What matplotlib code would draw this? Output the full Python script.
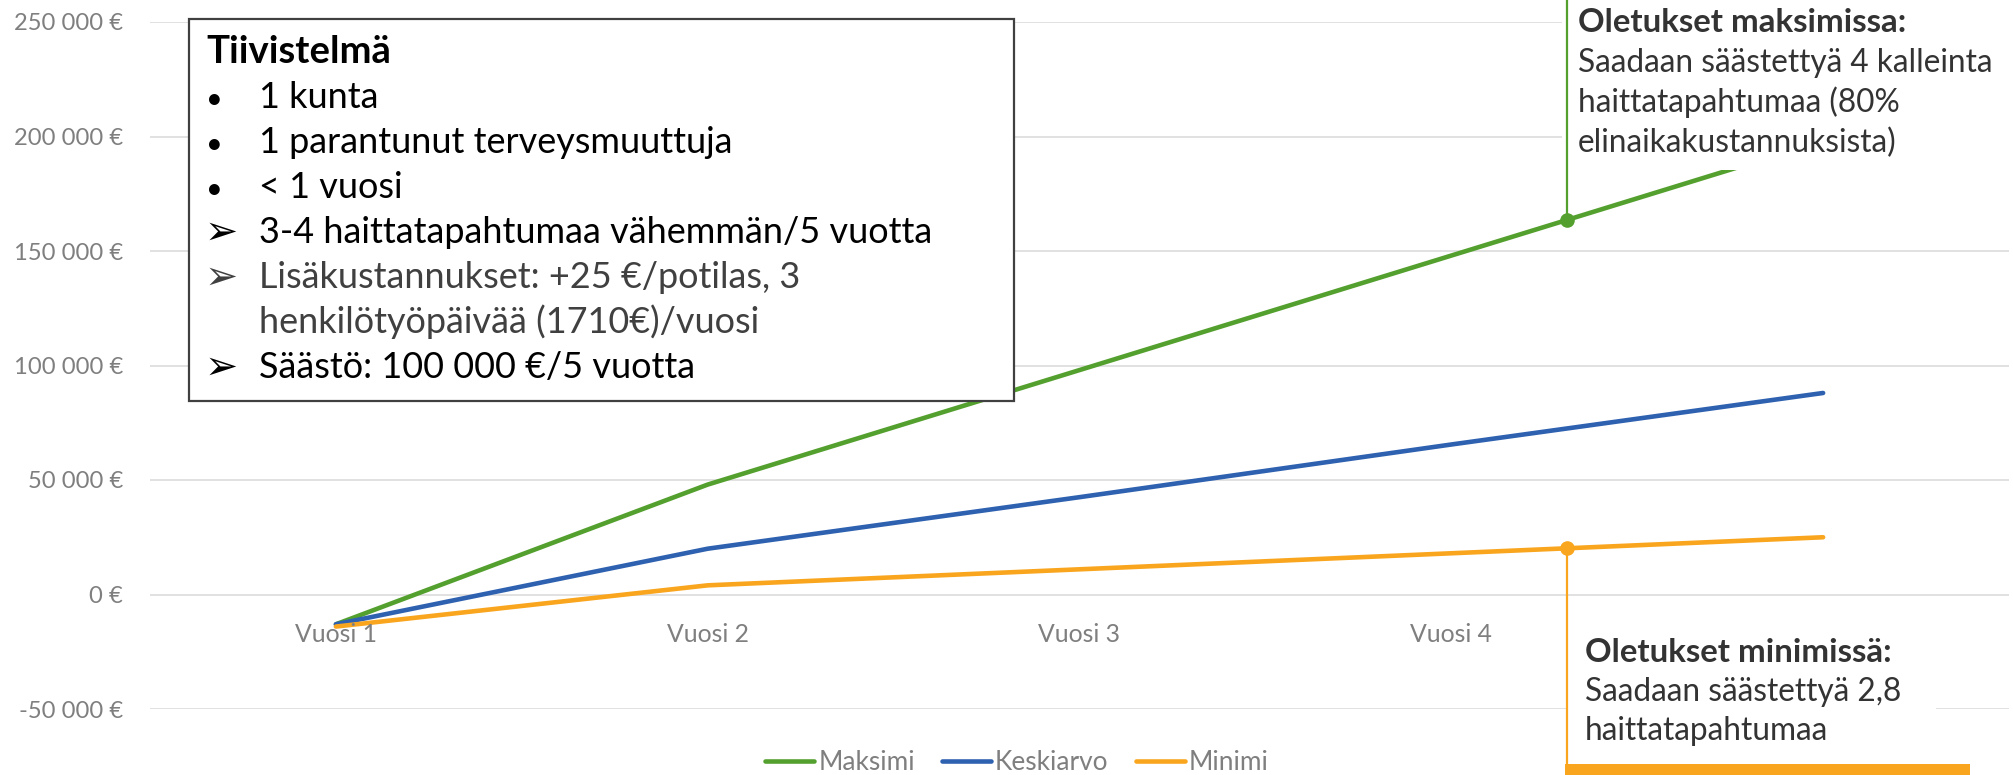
import numpy as np
import matplotlib
matplotlib.use("Agg")
import matplotlib.pyplot as plt
from matplotlib.patches import Rectangle
from matplotlib.lines import Line2D
from matplotlib.textpath import TextPath
from matplotlib.font_manager import FontProperties

# --- data -------------------------------------------------------------
vuodet = ["Vuosi 1", "Vuosi 2", "Vuosi 3", "Vuosi 4", "Vuosi 5"]
maksimi = [-13000, 48000, 98000, 148000, 198000]
keskiarvo = [-13000, 20000, 42500, 65500, 88000]
minimi = [-14000, 4000, 11000, 18000, 25000]
y_ticks = [-50000, 0, 50000, 100000, 150000, 200000, 250000]

sarjat = ["Maksimi", "Keskiarvo", "Minimi"]
varit = ["#54A02E", "#2E61B0", "#F9A51E"]

tiivistelma = [
    ("•", "1 kunta"),
    ("•", "1 parantunut terveysmuuttuja"),
    ("•", "< 1 vuosi"),
    ("➢", "3-4 haittatapahtumaa vähemmän/5 vuotta"),
    ("➢", "Lisäkustannukset: +25 €/potilas, 3"),
    ("", "henkilötyöpäivää (1710€)/vuosi"),
    ("➢", "Säästö: 100 000 €/5 vuotta"),
]
harmaat_rivit = [4, 5]

maks_otsikko = "Oletukset maksimissa:"
maks_teksti = ["Saadaan säästettyä 4 kalleinta", "haittatapahtumaa (80%",
               "elinaikakustannuksista)"]
min_otsikko = "Oletukset minimissä:"
min_teksti = ["Saadaan säästettyä 2,8", "haittatapahtumaa"]
kohta = 4.31   # where the callouts touch the lines

# --- setup ------------------------------------------------------------
W, H = 2013, 775
FONT = ["Lato", "DejaVu Sans"]
plt.rcParams["font.family"] = FONT


def fx(x):
    return x / W


def fy(y):
    return 1 - y / H


def koko(s, leveys_px, weight="normal"):
    # font size (pt) that makes the ink of s about leveys_px wide
    fp = FontProperties(family="Lato", weight=weight, size=10)
    w = TextPath((0, 0), s, prop=fp).get_extents().width
    return 10 * leveys_px * 72 / 100 / w


fs_tick = koko("250 000 €", 107)
fs_cat = koko("Vuosi 1", 80)
fs_leg = koko("Keskiarvo", 110)
fs_title = koko("Tiivistelmä", 182, "bold")
fs_body = koko("3-4 haittatapahtumaa vähemmän/5 vuotta", 670)
fs_note_b = koko(maks_otsikko, 326, "bold")
fs_note = koko(maks_teksti[0], 413)

fig = plt.figure(figsize=(W / 100, H / 100), dpi=100)
ax = fig.add_axes([fx(150), fy(709), (2009 - 150) / W, (709 - 22) / H])

x = np.arange(1, len(vuodet) + 1)
for nimi, arvot, vari in zip(sarjat, [maksimi, keskiarvo, minimi], varit):
    ax.plot(x, arvot, color=vari, lw=3.3, label=nimi,
            solid_capstyle="round", solid_joinstyle="round", zorder=3)

ax.set_xlim(0.5, 5.5)
ax.set_ylim(-50000, 250000)
ax.set_yticks(y_ticks)
ax.set_yticklabels([f"{v:,} €".replace(",", " ") for v in y_ticks])
ax.set_xticks([])
ax.yaxis.grid(True, color="#D9D9D9", lw=1.1)
ax.set_axisbelow(True)
for s in ax.spines.values():
    s.set_visible(False)
ax.tick_params(axis="y", length=0, pad=19.5, labelsize=fs_tick,
               labelcolor="#7F7F7F")

# the last category label sits under the minimum callout box, as in the source
for xi, nimi in zip(x[:-1], vuodet[:-1]):
    ax.annotate(nimi, (xi, 0), xytext=(0, -47 * 0.72),
                textcoords="offset points", ha="center", va="baseline",
                fontsize=fs_cat, color="#7F7F7F")

fs_px = fs_leg * 100 / 72
leg = ax.legend(loc="center", ncol=3, frameon=False, fontsize=fs_leg,
                labelcolor="#7F7F7F", handlelength=49 / fs_px,
                handletextpad=4 / fs_px, columnspacing=27 / fs_px,
                bbox_to_anchor=(fx(1017), fy(763)),
                bbox_transform=fig.transFigure)
for h in leg.get_lines():
    h.set_solid_capstyle("round")


def data_to_fig(xd, yd):
    return fig.transFigure.inverted().transform(ax.transData.transform((xd, yd)))


# --- summary box --------------------------------------------------------
fig.add_artist(Rectangle((fx(189), fy(401)), (1014 - 189) / W, (401 - 19) / H,
                         facecolor="white", edgecolor="#404040", lw=1.6,
                         transform=fig.transFigure, zorder=5))
fig.text(fx(206), fy(63), "Tiivistelmä", fontsize=fs_title, fontweight="bold",
         color="black", va="baseline", zorder=6)
for i, (merkki, teksti) in enumerate(tiivistelma):
    yb = 108 + 45 * i
    vari = "#404040" if i in harmaat_rivit else "black"
    if merkki == "•":
        fig.text(fx(214), fy(yb), merkki, fontsize=fs_body * 0.8, color=vari,
                 ha="center", va="baseline", zorder=6)
    elif merkki:
        fig.text(fx(205), fy(yb + 1), merkki, fontsize=fs_body * 1.1,
                 color=vari, ha="left", va="baseline", zorder=6)
    fig.text(fx(259), fy(yb), teksti, fontsize=fs_body, color=vari,
             va="baseline", zorder=6)

# --- maximum callout ----------------------------------------------------
mx, my = data_to_fig(kohta, np.interp(kohta, x, maksimi))
fig.add_artist(Rectangle((mx - 5 / W, fy(170)), 1 - mx + 5 / W, 170 / H,
                         facecolor="white", edgecolor="none",
                         transform=fig.transFigure, zorder=5))
fig.add_artist(Line2D([mx, mx], [my, 1], color=varit[0], lw=1.6,
                      transform=fig.transFigure, zorder=6))
fig.add_artist(Line2D([mx], [my], marker="o", ms=9.5, color=varit[0],
                      transform=fig.transFigure, zorder=6))
fig.text(fx(1578), fy(32), maks_otsikko, fontsize=fs_note_b, fontweight="bold",
         color="#333333", va="baseline", zorder=6)
for i, rivi in enumerate(maks_teksti):
    fig.text(fx(1578), fy(72 + 40 * i), rivi, fontsize=fs_note,
             color="#333333", va="baseline", zorder=6)

# --- minimum callout ----------------------------------------------------
nx, ny = data_to_fig(kohta, np.interp(kohta, x, minimi))
fig.add_artist(Rectangle((nx, fy(775)), fx(1936) - nx, (775 - 605) / H,
                         facecolor="white", edgecolor="none",
                         transform=fig.transFigure, zorder=5))
fig.add_artist(Line2D([nx, nx], [ny, fy(765)], color=varit[2], lw=1.6,
                      transform=fig.transFigure, zorder=6))
fig.add_artist(Line2D([nx], [ny], marker="o", ms=9.5, color=varit[2],
                      transform=fig.transFigure, zorder=6))
fig.add_artist(Rectangle((nx - 2 / W, 0), fx(1970) - nx + 2 / W, 11 / H,
                         facecolor=varit[2], edgecolor="none",
                         transform=fig.transFigure, zorder=6))
fig.text(fx(1585), fy(662), min_otsikko, fontsize=fs_note_b, fontweight="bold",
         color="#333333", va="baseline", zorder=6)
for i, rivi in enumerate(min_teksti):
    fig.text(fx(1585), fy(701 + 39 * i), rivi, fontsize=fs_note,
             color="#333333", va="baseline", zorder=6)

fig.savefig("out.png", dpi=100)
